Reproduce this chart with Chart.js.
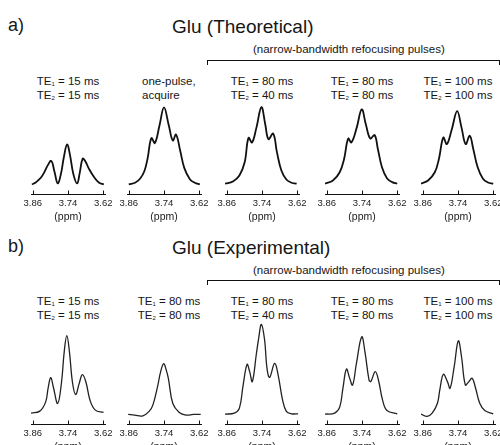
<!DOCTYPE html>
<html>
<head>
<meta charset="utf-8">
<script src="https://cdn.jsdelivr.net/npm/chart.js@4.4.0/dist/chart.umd.min.js"></script>
<style>
body{margin:0;width:500px;height:445px;overflow:hidden;background:#fff;position:relative;font-family:"Liberation Sans",Arial,sans-serif;color:#161616}
canvas{position:absolute}
.t{position:absolute;white-space:nowrap;line-height:1}
.te{position:absolute;width:100px;font-size:11.5px;line-height:13.5px;text-align:center;white-space:nowrap}
.te sub{font-size:6px;vertical-align:-1px;line-height:0}
.br{position:absolute;border:1px solid #111;border-bottom:none;height:4px}
</style>
</head>
<body>
<div class="t" style="left:8px;top:16px;font-size:18px">a)</div>
<div class="t" style="left:172px;top:17px;font-size:19px">Glu (Theoretical)</div>
<div class="t" style="left:253px;top:44px;font-size:11.5px">(narrow-bandwidth refocusing pulses)</div>
<div class="br" style="left:207px;top:60px;width:291px"></div>

<div class="t" style="left:8px;top:237px;font-size:18px">b)</div>
<div class="t" style="left:172px;top:238px;font-size:19px">Glu (Experimental)</div>
<div class="t" style="left:253px;top:265px;font-size:11.5px">(narrow-bandwidth refocusing pulses)</div>
<div class="br" style="left:207px;top:280px;width:291px"></div>

<div class="te" style="left:18px;top:75px">TE<sub>1</sub> = 15 ms<br>TE<sub>2</sub> = 15 ms</div>
<div class="te" style="left:142px;top:75px;text-align:left">one-pulse,<br>acquire</div>
<div class="te" style="left:212px;top:75px">TE<sub>1</sub> = 80 ms<br>TE<sub>2</sub> = 40 ms</div>
<div class="te" style="left:312px;top:75px">TE<sub>1</sub> = 80 ms<br>TE<sub>2</sub> = 80 ms</div>
<div class="te" style="left:408px;top:75px">TE<sub>1</sub> = 100 ms<br>TE<sub>2</sub> = 100 ms</div>

<div class="te" style="left:18px;top:295px">TE<sub>1</sub> = 15 ms<br>TE<sub>2</sub> = 15 ms</div>
<div class="te" style="left:119px;top:295px">TE<sub>1</sub> = 80 ms<br>TE<sub>2</sub> = 80 ms</div>
<div class="te" style="left:212px;top:295px">TE<sub>1</sub> = 80 ms<br>TE<sub>2</sub> = 40 ms</div>
<div class="te" style="left:312px;top:295px">TE<sub>1</sub> = 80 ms<br>TE<sub>2</sub> = 80 ms</div>
<div class="te" style="left:408px;top:295px">TE<sub>1</sub> = 100 ms<br>TE<sub>2</sub> = 100 ms</div>

<script>
const tickVals = [3.86, 3.74, 3.62];

// theoretical spectra (top row)
const theo15Ppm = [3.863,3.850,3.841,3.830,3.820,3.810,3.797,3.786,3.775,3.764,3.754,3.743,3.733,3.722,3.709,3.700,3.690,3.681,3.669,3.652,3.635,3.618];
const theo15Int = [0,2,4.3,7.7,12.7,18.7,23.7,12.7,1,10.7,27.7,40.3,29.3,10.7,1,11.7,26,23.3,16,7.7,2,0];
const onePulsePpm = [3.860,3.837,3.821,3.807,3.796,3.783,3.771,3.755,3.740,3.724,3.710,3.699,3.685,3.671,3.652,3.635,3.618];
const onePulseInt = [0,2,6,13.3,26,46.7,41.7,60,77.7,60,44.3,50.3,34.3,16.7,5.3,1.7,0];
const theo8040Ppm = [3.866,3.839,3.817,3.799,3.786,3.774,3.759,3.742,3.729,3.718,3.702,3.689,3.674,3.657,3.639,3.622];
const theo8040Int = [0.7,3,9,22.3,47,42.3,57.3,78,60.7,45.7,51.3,32.3,14,5,1.7,0.7];
const theo8080Ppm = [3.866,3.839,3.816,3.801,3.787,3.776,3.758,3.741,3.727,3.712,3.697,3.686,3.672,3.655,3.637,3.620];
const theo8080Int = [0.7,4,12.3,25.7,46.3,42.3,57.3,75.7,60.7,46.3,49.7,35.7,17.3,6.3,2.3,0.7];
const theo100Ppm = [3.866,3.842,3.819,3.805,3.790,3.778,3.761,3.743,3.728,3.714,3.700,3.688,3.673,3.655,3.638,3.620];
const theo100Int = [0.7,4,12.3,25.7,47.3,40.7,55.7,74,57.3,40.7,49,35.7,17.3,5.7,2,0.7];

// experimental spectra (bottom row)
const exp15Ppm = [3.866,3.836,3.816,3.808,3.799,3.790,3.775,3.762,3.753,3.744,3.735,3.725,3.714,3.702,3.691,3.679,3.665,3.647,3.619];
const exp15Int = [0,2,11.3,24.7,35.7,26.3,9.7,31.3,61.3,78,61.3,31.3,18.7,29.7,38.7,31.3,13,3,0.7];
const exp8080aPpm = [3.862,3.840,3.812,3.790,3.778,3.761,3.752,3.741,3.732,3.725,3.710,3.688,3.665,3.640,3.615];
const exp8080aInt = [-1.3,-2,-2.7,2,8,28,41,49.7,43,34.7,9.7,0.7,-2,-1.3,-1.3];
const exp8040Ppm = [3.866,3.834,3.817,3.805,3.791,3.782,3.773,3.759,3.751,3.742,3.731,3.723,3.714,3.697,3.685,3.670,3.657,3.639,3.617];
const exp8040Int = [-1,0,5,26.7,49,41.7,31.7,60,76,89.3,73.3,45,36,50,38.3,13.3,1.7,-0.7,-0.7];
const exp8080Ppm = [3.866,3.833,3.816,3.805,3.793,3.782,3.772,3.759,3.741,3.730,3.716,3.710,3.695,3.684,3.670,3.655,3.620];
const exp8080Int = [-1,0,6,25,44.3,35,28.3,50,76.7,61.7,33.3,31.7,41.7,33.3,13.3,2.7,-0.7];
const exp100Ppm = [3.866,3.845,3.828,3.810,3.802,3.790,3.776,3.767,3.753,3.739,3.728,3.715,3.703,3.692,3.680,3.666,3.649,3.620];
const exp100Int = [-1,-3.3,0,10,23.3,39,31.7,25,46.7,72.7,56.7,28.3,31.7,35,25,10,2.7,-0.7];

const fontFam = "'Liberation Sans', Arial, sans-serif";

// axis ticks point up into the plot, like the original figure
const upTicks = {
  id: 'upTicks',
  afterDraw(chart) {
    const sx = chart.scales.x, ctx = chart.ctx;
    const b = Math.round(chart.chartArea.bottom) + 0.5;
    ctx.save();
    ctx.strokeStyle = '#111';
    ctx.lineWidth = 1;
    sx.ticks.forEach(t => {
      const px = Math.round(sx.getPixelForValue(t.value)) + 0.5;
      ctx.beginPath();
      ctx.moveTo(px, b);
      ctx.lineTo(px, b - 4);
      ctx.stroke();
    });
    ctx.restore();
  }
};

function makePanel(ppm, inten, x86, axisY, yMin, lw, col) {
  const canvas = document.createElement('canvas');
  canvas.width = 98;
  canvas.height = 135;
  document.body.appendChild(canvas);
  const chart = new Chart(canvas, {
    type: 'line',
    data: {
      datasets: [{
        data: ppm.map((p, i) => ({x: p, y: inten[i]})),
        borderColor: col,
        borderWidth: lw,
        pointRadius: 0,
        tension: 0.4,
        fill: false
      }]
    },
    options: {
      responsive: false,
      maintainAspectRatio: false,
      animation: false,
      layout: {padding: {left: 12, right: 12, top: 0, bottom: 0}},
      plugins: {legend: {display: false}, tooltip: {enabled: false}},
      scales: {
        x: {
          type: 'linear',
          reverse: true,
          min: 3.614,
          max: 3.866,
          afterBuildTicks: s => { s.ticks = tickVals.map(v => ({value: v})); },
          grid: {display: true, drawOnChartArea: false, drawTicks: false},
          border: {display: true, color: '#111', width: 1},
          ticks: {
            font: {size: 9.5, family: fontFam, lineHeight: 1.1},
            color: '#222',
            padding: 4,
            maxRotation: 0,
            autoSkip: false,
            callback: v => v.toFixed(2)
          },
          title: {
            display: true,
            text: '(ppm)',
            color: '#222',
            font: {size: 10.5, family: fontFam, lineHeight: 1},
            padding: {top: -1, bottom: 0}
          }
        },
        y: {display: false, min: yMin, max: yMin + 100}
      }
    },
    plugins: [upTicks]
  });
  // one data unit = one pixel, then move the canvas so the axis sits where it should
  const h = chart.chartArea.bottom - chart.chartArea.top;
  chart.options.scales.y.max = yMin + h;
  chart.update();
  canvas.style.left = (x86 - chart.scales.x.getPixelForValue(3.86)) + 'px';
  canvas.style.top = (axisY - chart.chartArea.bottom) + 'px';
  return chart;
}

const topX = [33, 129, 227, 327, 423];

makePanel(theo15Ppm, theo15Int, topX[0], 194, -9.7, 1.8, '#111');
makePanel(onePulsePpm, onePulseInt, topX[1], 194, -9.7, 1.8, '#111');
makePanel(theo8040Ppm, theo8040Int, topX[2], 194, -9.7, 1.8, '#111');
makePanel(theo8080Ppm, theo8080Int, topX[3], 194, -9.7, 1.8, '#111');
makePanel(theo100Ppm, theo100Int, topX[4], 194, -9.7, 1.8, '#111');

makePanel(exp15Ppm, exp15Int, topX[0], 424, -11, 1.3, '#222');
makePanel(exp8080aPpm, exp8080aInt, topX[1], 424, -11, 1.3, '#222');
makePanel(exp8040Ppm, exp8040Int, topX[2], 424, -11, 1.3, '#222');
makePanel(exp8080Ppm, exp8080Int, topX[3], 424, -11, 1.3, '#222');
makePanel(exp100Ppm, exp100Int, topX[4], 424, -11, 1.3, '#222');
</script>
</body>
</html>
